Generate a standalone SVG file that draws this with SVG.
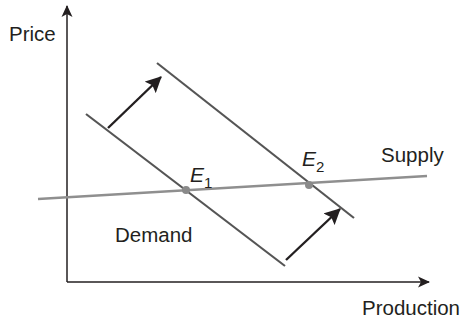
<svg xmlns="http://www.w3.org/2000/svg" width="465" height="321" viewBox="0 0 465 321">
<style>
.lbl{font-family:"Liberation Sans",Arial,sans-serif;font-size:20.5px;fill:#231f20}
.it{font-style:italic;font-size:21px}
.sub{font-size:15px;font-style:normal}
.axis{stroke:#231f20;stroke-width:1.5;fill:none}
.dem{stroke:#555;stroke-width:2.2;fill:none}
.sup{stroke:#8f8f8f;stroke-width:2.4;fill:none}
.shift{stroke:#231f20;stroke-width:2.4;fill:none}
.dot{fill:#8a8a8a}
</style>
<defs>
<marker id="ax" viewBox="0 0 12 12" refX="11" refY="6" markerWidth="12" markerHeight="12" markerUnits="userSpaceOnUse" orient="auto">
<path d="M0,0.5 L12,6 L0,11.5 L3,6 Z" fill="#231f20"/>
</marker>
<marker id="sh" viewBox="0 0 16 16" refX="15" refY="8" markerWidth="16" markerHeight="16" markerUnits="userSpaceOnUse" orient="auto">
<path d="M0,0 L16,8 L0,16 L3,8 Z" fill="#231f20"/>
</marker>
</defs>
<g id="axes">
<line class="axis" x1="67" y1="282" x2="67" y2="6" marker-end="url(#ax)"/>
<line class="axis" x1="67" y1="282" x2="429" y2="282" marker-end="url(#ax)"/>
</g>
<g id="connectors">
<line class="sup" x1="38" y1="199" x2="427" y2="176"/>
<line class="dem" x1="86" y1="114" x2="285" y2="266"/>
<line class="dem" x1="157" y1="63" x2="354" y2="218"/>
<line class="shift" x1="108" y1="128" x2="161" y2="77" marker-end="url(#sh)"/>
<line class="shift" x1="286" y1="260" x2="340" y2="209" marker-end="url(#sh)"/>
</g>
<g id="E1">
<circle class="dot" cx="186" cy="190" r="4"/>
<text class="lbl it" x="190" y="182">E<tspan class="sub" dy="6">1</tspan></text>
</g>
<g id="E2">
<circle class="dot" cx="309" cy="185" r="4"/>
<text class="lbl it" x="302" y="166">E<tspan class="sub" dy="6">2</tspan></text>
</g>
<g id="labels">
<text class="lbl" x="9" y="41">Price</text>
<text class="lbl" x="362" y="315">Production</text>
<text class="lbl" x="115" y="242">Demand</text>
<text class="lbl" x="381" y="162">Supply</text>
</g>
</svg>
